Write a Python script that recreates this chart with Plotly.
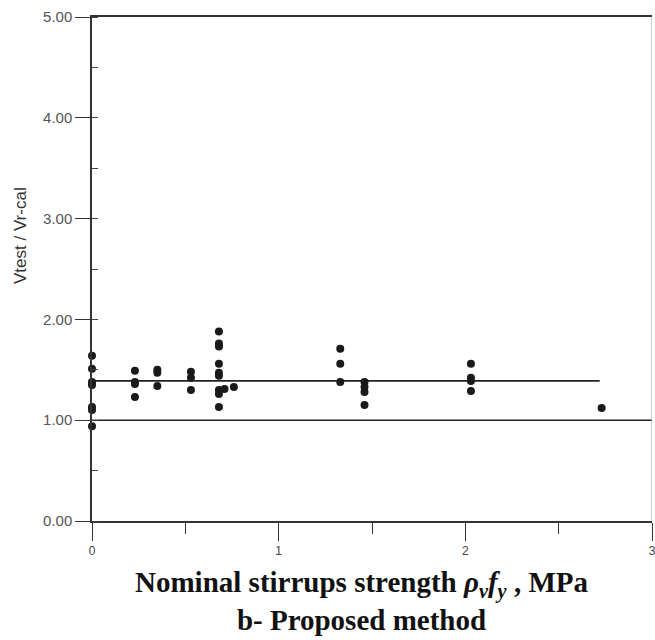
import plotly.graph_objects as go

# Data
x_vals = [0, 0, 0, 0, 0, 0, 0,
          0.23, 0.23, 0.23, 0.23,
          0.35, 0.35, 0.35,
          0.53, 0.53, 0.53,
          0.68, 0.68, 0.68, 0.68, 0.68, 0.68, 0.68, 0.68, 0.68, 0.71, 0.76,
          1.33, 1.33, 1.33,
          1.46, 1.46, 1.46, 1.46,
          2.03, 2.03, 2.03, 2.03,
          2.73]
y_vals = [1.64, 1.51, 1.38, 1.35, 1.13, 1.10, 0.94,
          1.49, 1.38, 1.36, 1.23,
          1.50, 1.47, 1.34,
          1.48, 1.42, 1.30,
          1.88, 1.76, 1.73, 1.56, 1.47, 1.44, 1.30, 1.26, 1.13, 1.31, 1.33,
          1.71, 1.56, 1.38,
          1.38, 1.33, 1.28, 1.15,
          1.56, 1.42, 1.39, 1.29,
          1.12]
mean_x = [0, 2.72]
mean_y = [1.39, 1.39]
ref_x = [0, 3]
ref_y = [1.0, 1.0]
y_ticks = [0, 1, 2, 3, 4, 5]
x_ticks = [0, 1, 2, 3]

L, R, T, B = 92, 3, 17, 119
W, H = 655, 640
PW, PH = W - L - R, H - T - B

fig = go.Figure()
fig.add_trace(go.Scatter(x=ref_x, y=ref_y, mode="lines",
                         line=dict(color="#222", width=1.6), hoverinfo="skip", cliponaxis=False))
fig.add_trace(go.Scatter(x=mean_x, y=mean_y, mode="lines",
                         line=dict(color="#222", width=1.6), hoverinfo="skip", cliponaxis=False))
fig.add_trace(go.Scatter(x=x_vals, y=y_vals, mode="markers",
                         marker=dict(color="#1a1a1a", size=8), cliponaxis=False))

fig.update_layout(
    width=W, height=H,
    margin=dict(l=L, r=R, t=T, b=B),
    paper_bgcolor="white", plot_bgcolor="white",
    showlegend=False,
    xaxis=dict(range=[0, 3], tickvals=x_ticks, ticktext=[str(v) for v in x_ticks],
               automargin=False, ticklabeloverflow="allow",
               showgrid=False, zeroline=False, showline=True, linecolor="#333", linewidth=1.5,
               mirror=True, ticks="outside", ticklen=18, tickcolor="#333", tickwidth=1.3,
               minor=dict(dtick=0.5, tick0=0, ticks="outside", ticklen=11, tickcolor="#333", tickwidth=1.3),
               tickfont=dict(family="Arial, Liberation Sans", size=12, color="#444")),
    yaxis=dict(range=[0, 5], tickvals=y_ticks, tickformat=".2f", automargin=False,
               showgrid=False, zeroline=False, showline=True, linecolor="#333", linewidth=1.5,
               mirror=False, ticks="outside", ticklen=15, tickcolor="#333", tickwidth=1.3,
               minor=dict(dtick=0.5, tick0=0, ticks="inside", ticklen=6, tickcolor="#444", tickwidth=1.2),
               tickfont=dict(family="Arial, Liberation Sans", size=15, color="#555")),
    shapes=[dict(type="line", xref="x", yref="y", x0=3, x1=3, y0=0, y1=5,
                 line=dict(color="#aaa", width=1.2))],
    annotations=[
        dict(text="Vtest / Vr-cal", textangle=-90,
             xref="paper", yref="paper", x=(20 - L) / PW, y=(H - B - 236) / PH,
             xanchor="center", yanchor="middle", showarrow=False,
             font=dict(family="Arial, Liberation Sans", size=17, color="#333")),
        dict(text="<b>Nominal stirrups strength <i>ρ<sub>v</sub>f<sub>y</sub></i> , MPa<br>b- Proposed method</b>",
             xref="paper", yref="paper", x=(361 - L) / PW, y=(H - B - 564) / PH,
             xanchor="center", yanchor="top",
             showarrow=False, align="center",
             font=dict(family="Liberation Serif, Times New Roman", size=29, color="#111")),
    ],
)

fig.write_html("out.html", config={"displayModeBar": False},
               post_script="document.body.style.margin='0';document.body.style.overflow='hidden';")
